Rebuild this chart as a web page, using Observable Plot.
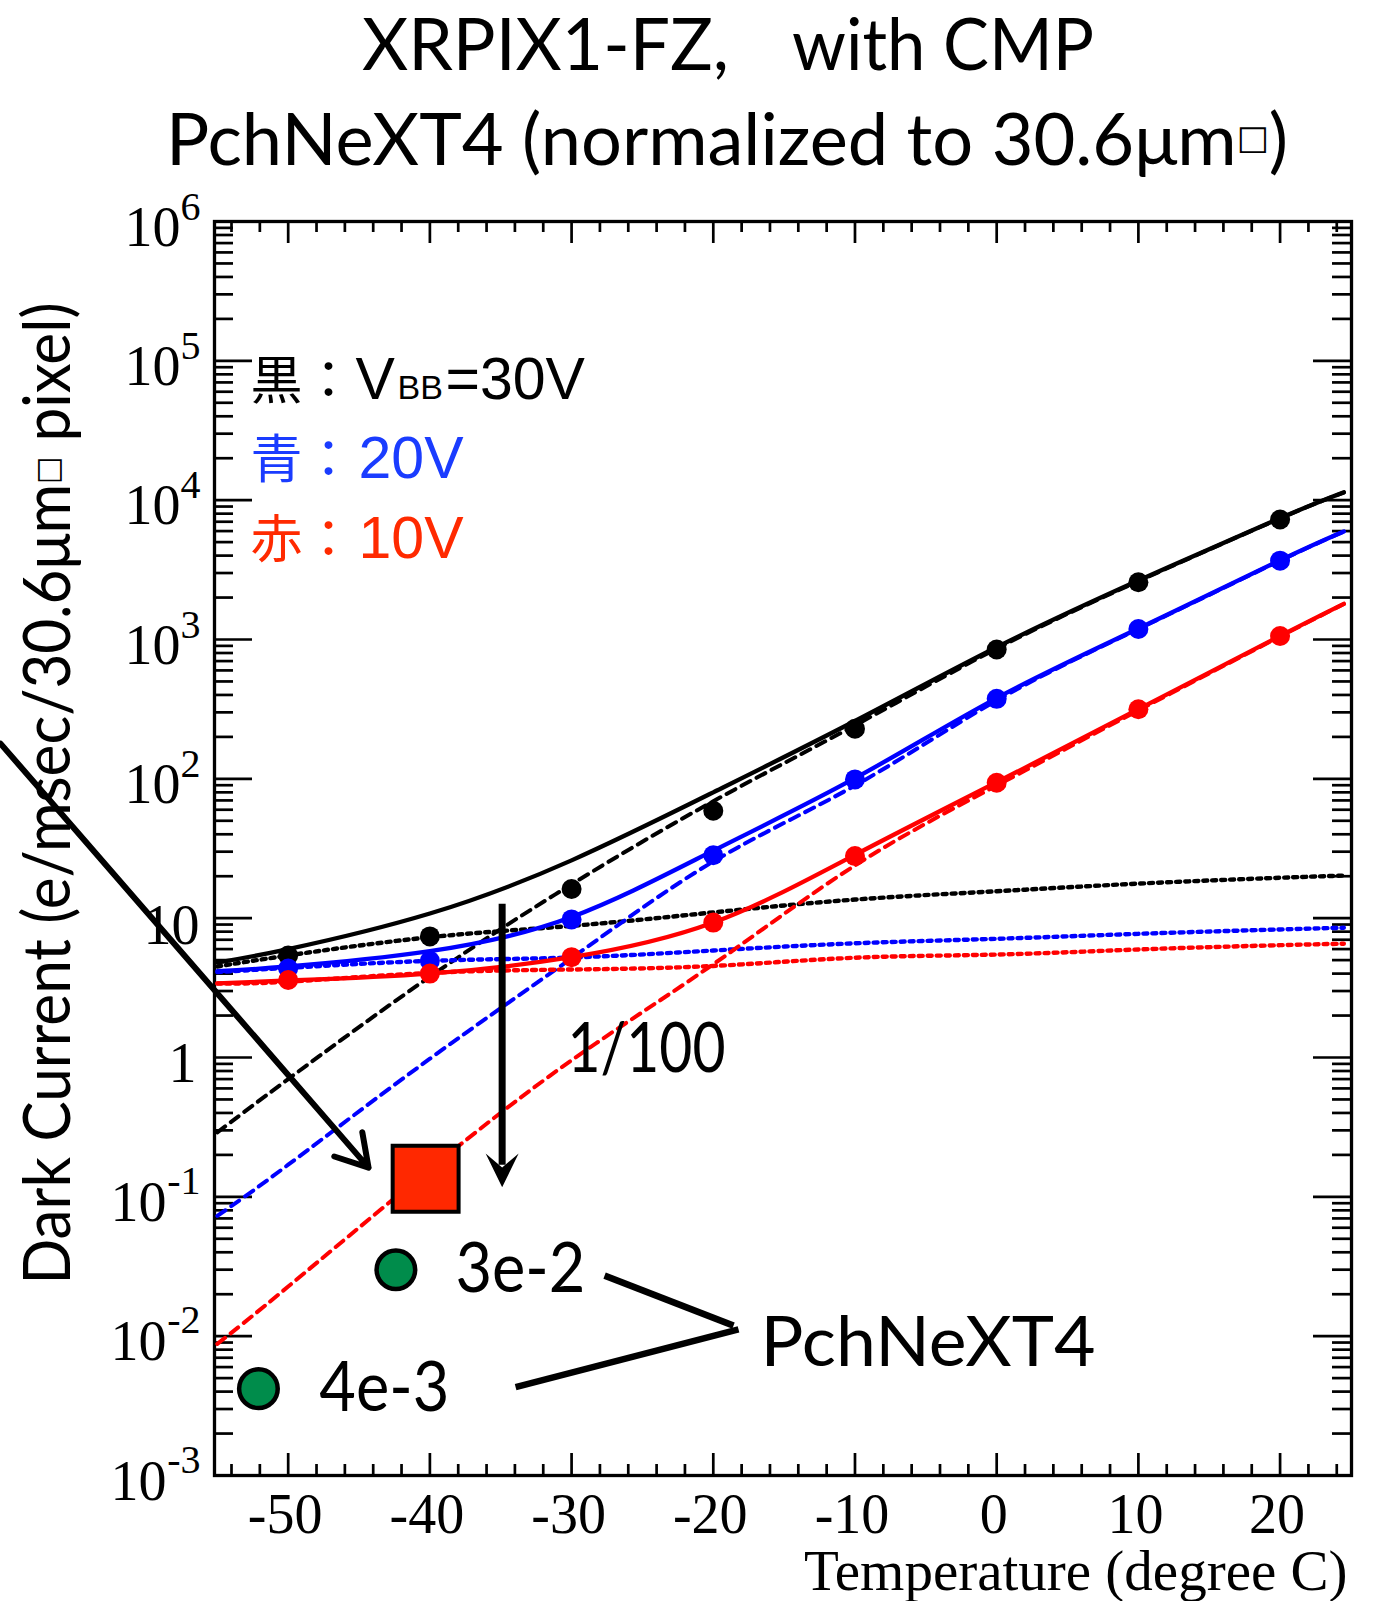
<!DOCTYPE html>
<html><head><meta charset="utf-8">
<script src="https://cdn.jsdelivr.net/npm/d3@7"></script>
<script src="https://cdn.jsdelivr.net/npm/@observablehq/plot@0.6"></script>
<style>
body{margin:0;background:#fff;}
#wrap{position:relative;width:1378px;height:1601px;overflow:hidden;background:#fff;}
#title{position:absolute;left:0;top:0;width:1378px;height:190px;}
.tl{position:absolute;font-family:Lato;font-size:71px;line-height:1;white-space:pre;color:#000;transform-origin:0 50%;}
.box{font-family:'DejaVu Sans';font-size:0.47em;position:relative;top:-0.45em;}
#chart{position:absolute;left:0;top:190px;}
</style></head>
<body><div id="wrap"><div id="title">
<span class="tl" id="t1a">XRPIX1-FZ,</span>
<span class="tl" id="t1b">with CMP</span>
<span class="tl" id="t2">PchNeXT4 (normalized to 30.6μm<span class="box">□</span>)</span>
</div><div id="chart"></div></div>
<script>
// ---- measured points ----
const temps = [-50, -40, -30, -20, -10, 0, 10, 20];
const black30V = [5.4, 7.4, 16.2, 59, 229, 847, 2577, 7270];
const blue20V = [4.35, 4.95, 9.8, 28.3, 99, 375, 1190, 3680];
const red10V = [3.6, 4.0, 5.25, 9.3, 27.9, 93.8, 316, 1060];

// ---- fit curves ----
const fitT = [-55, -50, -40, -30, -20, -10, 0, 10, 20, 24.5];
const blackTotal = [4.8, 6.0, 10.8, 26, 80, 260, 880, 2650, 7430, 11400];
const blackDiff = [0.29, 0.70, 3.8, 17.5, 69, 242, 860, 2620, 7400, 11350];
const blackGen = [4.5, 5.4, 7.3, 8.8, 11.0, 13.6, 15.6, 17.7, 19.5, 20.2];
const blueTotal = [4.16, 4.5, 5.8, 10.2, 30.5, 101, 380, 1200, 3700, 5960];
const blueDiff = [0.073, 0.17, 0.98, 5.16, 25.5, 89.5, 365, 1190, 3680, 5950];
const blueGen = [4.1, 4.4, 4.94, 5.22, 5.86, 6.6, 7.11, 7.72, 8.3, 8.53];
const redTotal = [3.40, 3.57, 4.0, 5.25, 9.3, 28.5, 94.6, 316, 1060, 1803];
const redDiff = [0.0088, 0.0227, 0.158, 0.955, 4.67, 23.9, 89.5, 310, 1050, 1800];
const redGen = [3.4, 3.5, 4.05, 4.28, 4.54, 5.2, 5.48, 5.96, 6.4, 6.55];

// ---- annotations ----
const squareT = [-40.3], squareV = [0.135];
const pchT = [-42.4, -52.1], pchV = [0.030, 0.0042];
const pchLabels = ["3e-2", "4e-3"], pchLabelT = [-38.2, -47.8];
const diagArrow = {T1: -70.3, v1: 179, T2: -44.33, v2: 0.162};
const vArrowT = [-34.9], vArrowTop = [12.7], vArrowNotch = [0.17], vArrowTip = [0.117];
const connT1 = [-27.67, -33.95], connV1 = [0.0272, 0.00431];
const connT2 = [-18.57, -18.22], connV2 = [0.0119, 0.01117];
const factorLabel = ["1/100"], factorT = [-30.29], factorV = [1.14];
const pchName = ["PchNeXT4"], pchNameT = [-16.66], pchNameV = [0.00885];

// ---- legend ----
const legendKanji = ["黒：", "青：", "赤："];
const legendVolt = ["V", "20V", "10V"];
const legendSub = ["BB"], legendTail = ["=30V"];

// ---- axes ----
const xMajor = [-50, -40, -30, -20, -10, 0, 10, 20];
const xMinor = d3.range(-54, 25, 2).filter(t => t % 10 !== 0);
const yPosExp = [6, 5, 4, 3, 2];
const yNegExp = [-1, -2, -3];
const yDecades = [-3, -2, -1, 0, 1, 2, 3, 4, 5, 6];
const yMinor = d3.range(-3, 6).flatMap(k => d3.range(2, 10).map(m => m * 10 ** k));
const yTitle = ["Dark Current (e/msec/30.6μm□ pixel)"];
const xTitle = ["Temperature (degree C)"];

const W = 1378, H = 1411, mL = 214, mR = 27, mT = 31, mB = 126;
const fW = W - mL - mR, fH = H - mT - mB;

const series = [
  {pts: black30V, total: blackTotal, diff: blackDiff, gen: blackGen, color: "#000000"},
  {pts: blue20V, total: blueTotal, diff: blueDiff, gen: blueGen, color: "#0000ff"},
  {pts: red10V, total: redTotal, diff: redDiff, gen: redGen, color: "#ff0000"}
];
const legendColors = ["#000000", "#1a3cff", "#ff2a00"];

const arrowHead = {
  draw(ctx, size) {
    const r = Math.sqrt(size / Math.PI);
    ctx.moveTo(0, 0);
    ctx.lineTo(-r, -2.05 * r);
    ctx.lineTo(0, -1.2 * r);
    ctx.lineTo(r, -2.05 * r);
    ctx.closePath();
  }
};

const idx = a => a.map((_, i) => i);
const tickStyle = {stroke: "#000", strokeWidth: 2.7};
const serif = "Liberation Serif";
const marks = [
  Plot.ruleX(xMajor, {x: d => d, insetTop: fH - 22, ...tickStyle}),
  Plot.ruleX(xMajor, {x: d => d, insetBottom: fH - 22, ...tickStyle}),
  Plot.ruleX(xMinor, {x: d => d, insetTop: fH - 11, ...tickStyle}),
  Plot.ruleX(xMinor, {x: d => d, insetBottom: fH - 11, ...tickStyle}),
  Plot.ruleY(yDecades, {y: d => 10 ** d, insetRight: fW - 38, ...tickStyle}),
  Plot.ruleY(yDecades, {y: d => 10 ** d, insetLeft: fW - 38, ...tickStyle}),
  Plot.ruleY(yMinor, {y: d => d, insetRight: fW - 19, ...tickStyle}),
  Plot.ruleY(yMinor, {y: d => d, insetLeft: fW - 19, ...tickStyle}),
  Plot.frame({stroke: "#000", strokeWidth: 3.3})
];
for (const s of series) {
  marks.push(
    Plot.line(idx(fitT), {x: i => fitT[i], y: i => s.gen[i], stroke: s.color, strokeWidth: 4.4, strokeDasharray: "4,5", curve: "natural"}),
    Plot.line(idx(fitT), {x: i => fitT[i], y: i => s.diff[i], stroke: s.color, strokeWidth: 4, strokeDasharray: "10,7", curve: "natural"}),
    Plot.line(idx(fitT), {x: i => fitT[i], y: i => s.total[i], stroke: s.color, strokeWidth: 4.3, curve: "natural"})
  );
}
for (const s of series) {
  marks.push(Plot.dot(idx(temps), {x: i => temps[i], y: i => s.pts[i], r: 10, fill: s.color, stroke: "none"}));
}
const sansL = "Liberation Sans", cjk = "Noto Sans CJK JP";
marks.push(
  Plot.arrow([diagArrow], {x1: "T1", y1: "v1", x2: "T2", y2: "v2", stroke: "#000", strokeWidth: 6, headLength: 9, headAngle: 62}),
  Plot.link(idx(vArrowT), {x1: i => vArrowT[i], y1: i => vArrowTop[i], x2: i => vArrowT[i], y2: i => vArrowNotch[i], stroke: "#000", strokeWidth: 7}),
  Plot.dot(idx(vArrowT), {x: i => vArrowT[i], y: i => vArrowTip[i], r: 16.5, symbol: arrowHead, fill: "#000", stroke: "none"}),
  Plot.link(idx(connT1), {x1: i => connT1[i], y1: i => connV1[i], x2: i => connT2[i], y2: i => connV2[i], stroke: "#000", strokeWidth: 6.5}),
  Plot.dot(idx(squareT), {x: i => squareT[i], y: i => squareV[i], r: 37.2, symbol: "square", fill: "#ff2800", stroke: "#000", strokeWidth: 4}),
  Plot.dot(idx(pchT), {x: i => pchT[i], y: i => pchV[i], r: 19.3, fill: "#008c4b", stroke: "#000", strokeWidth: 4.5}),
  Plot.text(idx(pchT), {x: i => pchLabelT[i], y: i => pchV[i], text: i => pchLabels[i], textAnchor: "start", lineAnchor: "middle", fontFamily: "Lato", fontSize: 70, fill: "#000"}),
  Plot.text(factorLabel, {x: (_, i) => factorT[i], y: (_, i) => factorV[i], text: d => d, textAnchor: "start", lineAnchor: "middle", fontFamily: "Lato", fontSize: 70, fill: "#000"}),
  Plot.text(pchName, {x: (_, i) => pchNameT[i], y: (_, i) => pchNameV[i], text: d => d, textAnchor: "start", lineAnchor: "middle", fontFamily: "Lato", fontSize: 70, fill: "#000"}),
  // legend
  ...legendKanji.map((k, i) => Plot.text([k], {text: d => d, frameAnchor: "top-left", textAnchor: "start", lineAnchor: "bottom", dx: 36, dy: 177 + i * 79.5, fontFamily: cjk, fontSize: 52, fill: legendColors[i]})),
  ...legendVolt.map((v, i) => Plot.text([v], {text: d => d, frameAnchor: "top-left", textAnchor: "start", lineAnchor: "bottom", dx: i === 0 ? 141 : 144, dy: 177 + i * 79.5, fontFamily: sansL, fontSize: 59, fill: legendColors[i]})),
  Plot.text(legendSub, {text: d => d, frameAnchor: "top-left", textAnchor: "start", lineAnchor: "bottom", dx: 183, dy: 177, fontFamily: sansL, fontSize: 34, letterSpacing: 1.5, fill: "#000"}),
  Plot.text(legendTail, {text: d => d, frameAnchor: "top-left", textAnchor: "start", lineAnchor: "bottom", dx: 231, dy: 177, fontFamily: sansL, fontSize: 59, fill: "#000"}),
  // y tick labels
  Plot.text(yPosExp, {y: d => 10 ** d, text: () => "10", frameAnchor: "left", textAnchor: "end", lineAnchor: "bottom", dx: -34, dy: 24, fontFamily: serif, fontSize: 56, fill: "#000"}),
  Plot.text(yPosExp, {y: d => 10 ** d, text: d => String(d), frameAnchor: "left", textAnchor: "end", lineAnchor: "bottom", dx: -14, dy: -2, fontFamily: serif, fontSize: 40, fill: "#000"}),
  Plot.text(yNegExp, {y: d => 10 ** d, text: () => "10", frameAnchor: "left", textAnchor: "end", lineAnchor: "bottom", dx: -48, dy: 24, fontFamily: serif, fontSize: 56, fill: "#000"}),
  Plot.text(yNegExp, {y: d => 10 ** d, text: d => String(d), frameAnchor: "left", textAnchor: "end", lineAnchor: "bottom", dx: -14, dy: -3, fontFamily: serif, fontSize: 40, fill: "#000"}),
  Plot.text([1], {y: d => 10 ** d, text: () => "10", frameAnchor: "left", textAnchor: "end", lineAnchor: "bottom", dx: -15, dy: 26, fontFamily: serif, fontSize: 56, fill: "#000"}),
  Plot.text([0], {y: d => 10 ** d, text: () => "1", frameAnchor: "left", textAnchor: "end", lineAnchor: "bottom", dx: -18, dy: 24, fontFamily: serif, fontSize: 56, fill: "#000"}),
  // x tick labels
  Plot.text(xMajor, {x: d => d, text: d => String(d), frameAnchor: "bottom", textAnchor: "middle", lineAnchor: "bottom", dx: -3, dy: 57, fontFamily: serif, fontSize: 56, fill: "#000"}),
  // axis titles
  Plot.text(xTitle, {text: d => d, frameAnchor: "bottom-right", textAnchor: "end", lineAnchor: "bottom", dx: -4, dy: 114, fontFamily: serif, fontSize: 57, fill: "#000"}),
  Plot.text(yTitle, {text: d => d, frameAnchor: "left", rotate: -90, textAnchor: "middle", lineAnchor: "bottom", dx: -144.6, dy: -55, fontFamily: "Lato", fontSize: 65, fill: "#000"})
);

const svg = Plot.plot({
  width: W, height: H,
  marginLeft: mL, marginRight: mR, marginTop: mT, marginBottom: mB,
  style: {background: "transparent", overflow: "visible"},
  x: {domain: [-55.2, 25.04], axis: null},
  y: {type: "log", domain: [1e-3, 1e6], axis: null},
  marks
});
document.getElementById("chart").appendChild(svg);

const ns = "http://www.w3.org/2000/svg";
function textsWith(content) {
  return [...svg.querySelectorAll("text")].filter(t => t.textContent === content);
}
function fitText(content, w) {
  textsWith(content).forEach(t => { t.setAttribute("textLength", w); t.setAttribute("lengthAdjust", "spacingAndGlyphs"); });
}
fitText("3e-2", 130);
fitText("4e-3", 130);
fitText("1/100", 158);
fitText("PchNeXT4", 335);

// y title: small box glyph and target length
textsWith(yTitle[0]).forEach(yt => {
  const [a, b] = yt.textContent.split("□");
  yt.textContent = "";
  yt.appendChild(document.createTextNode(a));
  const ts = document.createElementNS(ns, "tspan");
  ts.setAttribute("font-size", "31");
  ts.setAttribute("font-family", "DejaVu Sans");
  ts.setAttribute("dy", "-12");
  ts.textContent = "□";
  yt.appendChild(ts);
  const ts2 = document.createElementNS(ns, "tspan");
  ts2.setAttribute("dy", "12");
  ts2.textContent = b;
  yt.appendChild(ts2);
  yt.setAttribute("textLength", 982);
  yt.setAttribute("lengthAdjust", "spacingAndGlyphs");
});

// title placement
function place(id, left, centerY, width) {
  const el = document.getElementById(id);
  el.style.left = left + "px";
  const r = el.getBoundingClientRect();
  el.style.top = (centerY - 37.5) + "px";
  el.style.transform = `scaleX(${width / r.width})`;
}
place("t1a", 362, 44, 367);
place("t1b", 792, 44, 302);
place("t2", 166, 139, 1122);
</script>
</body></html>
